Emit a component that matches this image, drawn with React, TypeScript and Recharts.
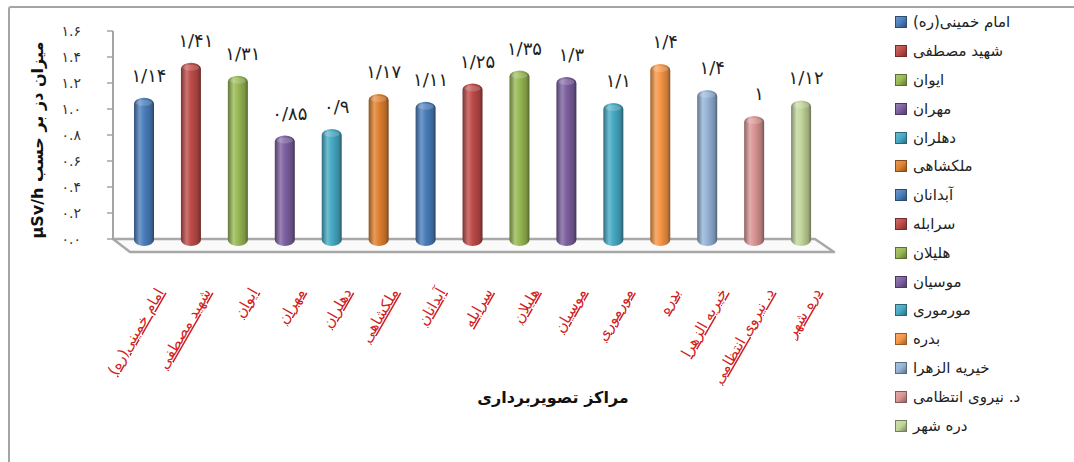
import { BarChart, Bar, XAxis, YAxis, LabelList } from 'recharts';

const categories = [
  'امام خمینی(ره)',
  'شهید مصطفی',
  'ایوان',
  'مهران',
  'دهلران',
  'ملکشاهی',
  'آبدانان',
  'سرابله',
  'هلیلان',
  'موسیان',
  'مورموری',
  'بدره',
  'خیریه الزهرا',
  'د. نیروی انتظامی',
  'دره شهر',
];

const doses = [1.14, 1.41, 1.31, 0.85, 0.9, 1.17, 1.11, 1.25, 1.35, 1.3, 1.1, 1.4, 1.2, 1, 1.12];

// labels as printed above the bars
const doseLabels = ['۱/۱۴', '۱/۴۱', '۱/۳۱', '۰/۸۵', '۰/۹', '۱/۱۷', '۱/۱۱', '۱/۲۵', '۱/۳۵', '۱/۳', '۱/۱', '۱/۴', '۱/۴', '۱', '۱/۱۲'];

const yTicks = [0, 0.2, 0.4, 0.6, 0.8, 1.0, 1.2, 1.4, 1.6];

const COLORS = [
  '#4A7EBB', '#BE4B48', '#98B954', '#7D60A0', '#46AAC5', '#E0812F', '#4A7EBB', '#BE4B48',
  '#98B954', '#7D60A0', '#46AAC5', '#F79646', '#95B3D7', '#D99694', '#C3D69B',
];

const FONT = '"DejaVu Sans", sans-serif';
const W = 1074;
const H = 462;
const PLOT_L = 113;
const PLOT_R = 817;
const PLOT_T = 31;
const BASE = 239;
const DEPTH_X = 17;
const DEPTH_Y = 13;
const BAR_DX = 8;
const BAR_DY = 7;

const fa = (s: string) => s.replace(/[0-9]/g, (d) => '۰۱۲۳۴۵۶۷۸۹'[Number(d)]);

const data = categories.map((name, i) => ({ name, value: doses[i], label: doseLabels[i], idx: i }));

function shade(hex: string, amt: number) {
  const n = parseInt(hex.slice(1), 16);
  let r = (n >> 16) & 255;
  let g = (n >> 8) & 255;
  let b = n & 255;
  if (amt < 0) {
    r = Math.round(r * (1 + amt));
    g = Math.round(g * (1 + amt));
    b = Math.round(b * (1 + amt));
  } else {
    r = Math.round(r + (255 - r) * amt);
    g = Math.round(g + (255 - g) * amt);
    b = Math.round(b + (255 - b) * amt);
  }
  return `rgb(${r},${g},${b})`;
}

const Cylinder = (props: any) => {
  const { x, y, width, height } = props;
  const i = props.payload?.idx ?? props.index ?? 0;
  if (!height) return null;
  const left = x + BAR_DX;
  const top = y + BAR_DY;
  return (
    <g>
      <rect x={left} y={top} width={width} height={height} rx={width / 2} ry={6} fill={`url(#cyl${i})`} />
      <ellipse cx={left + width / 2} cy={top + 5} rx={width / 2 - 2} ry={3} fill="rgba(255,255,255,0.18)" />
    </g>
  );
};

const XTick = (props: any) => {
  const { x, payload } = props;
  const ax = x + 28;
  const ay = 292;
  return (
    <text
      x={ax}
      y={ay}
      transform={`rotate(-60 ${ax} ${ay})`}
      textAnchor="end"
      fill="#d21f1f"
      fontSize={15}
      fontFamily={FONT}
      style={{ textDecoration: 'underline' }}
    >
      {payload.value}
    </text>
  );
};

const YTick = (props: any) => {
  const { x, y, payload } = props;
  return (
    <text x={x - 24} y={y + 5} textAnchor="end" fill="#333" fontSize={14} fontFamily={FONT}>
      {fa(Number(payload.value).toFixed(1))}
    </text>
  );
};

const ValueLabel = (props: any) => {
  const { x, y, width, value } = props;
  return (
    <text
      x={x + BAR_DX + width / 2 + 5}
      y={y + BAR_DY - 16}
      textAnchor="middle"
      fill="#222"
      fontSize={18}
      letterSpacing={1.5}
      fontFamily={FONT}
    >
      {value}
    </text>
  );
};

const LegendBox = () => (
  <div style={{ position: 'absolute', left: 895, top: 8, fontFamily: FONT, fontSize: 15, color: '#222' }}>
    {categories.map((c, i) => (
      <div key={c} style={{ height: 28.8, display: 'flex', alignItems: 'center', whiteSpace: 'nowrap' }}>
        <span
          style={{
            width: 10,
            height: 10,
            marginRight: 6,
            display: 'inline-block',
            background: `linear-gradient(135deg, ${shade(COLORS[i], 0.2)}, ${COLORS[i]} 50%, ${shade(COLORS[i], -0.35)})`,
            border: `1px solid ${shade(COLORS[i], -0.4)}`,
          }}
        />
        <span>{c}</span>
      </div>
    ))}
  </div>
);

export default function App() {
  return (
    <div style={{ position: 'absolute', left: 0, top: 0, width: W, height: H, background: '#fff', overflow: 'hidden' }}>
      {/* outer frame */}
      <div
        style={{
          position: 'absolute',
          left: 8,
          top: 6,
          width: W + 20,
          height: H + 20,
          borderTop: '2px solid #a5a5a5',
          borderLeft: '2px solid #a5a5a5',
          borderTopLeftRadius: 3,
        }}
      />
      {/* 3d floor */}
      <svg width={W} height={H} style={{ position: 'absolute', left: 0, top: 0 }}>
        <polygon
          points={`${PLOT_L},${BASE} ${PLOT_R - 2},${BASE} ${PLOT_R + DEPTH_X},${BASE + DEPTH_Y} ${PLOT_L + DEPTH_X},${BASE + DEPTH_Y}`}
          fill="#fafafa"
          stroke="#a8a8a8"
          strokeWidth={2.5}
          strokeLinejoin="round"
        />
      </svg>
      <div style={{ position: 'absolute', left: 0, top: 0 }}>
        <BarChart
          width={W}
          height={H}
          data={data}
          margin={{ top: PLOT_T, right: W - PLOT_R, bottom: H - BASE - 30, left: PLOT_L - 40 }}
        >
          <defs>
            {COLORS.map((c, i) => (
              <linearGradient key={i} id={`cyl${i}`} x1="0" y1="0" x2="1" y2="0">
                <stop offset="0%" stopColor={shade(c, -0.35)} />
                <stop offset="28%" stopColor={shade(c, 0.22)} />
                <stop offset="50%" stopColor={c} />
                <stop offset="85%" stopColor={shade(c, -0.2)} />
                <stop offset="100%" stopColor={shade(c, -0.45)} />
              </linearGradient>
            ))}
          </defs>
          <XAxis
            dataKey="name"
            axisLine={false}
            tickLine={false}
            interval={0}
            height={30}
            tick={<XTick />}
          />
          <YAxis
            width={40}
            domain={[0, 1.6]}
            ticks={yTicks}
            interval={0}
            axisLine={{ stroke: '#a5a5a5', strokeWidth: 2 }}
            tickLine={{ stroke: '#a5a5a5', strokeWidth: 1.5 }}
            tickSize={6}
            tick={<YTick />}
          />
          <Bar dataKey="value" barSize={20} shape={<Cylinder />} isAnimationActive={false}>
            <LabelList dataKey="label" content={<ValueLabel />} />
          </Bar>
        </BarChart>
      </div>
      <LegendBox />
      {/* axis titles */}
      <svg width={W} height={H} style={{ position: 'absolute', left: 0, top: 0, pointerEvents: 'none' }}>
        <text
          x={43}
          y={140}
          transform="rotate(-90 43 140)"
          textAnchor="middle"
          direction="rtl"
          fontSize={16}
          fontWeight="bold"
          fontFamily={FONT}
          fill="#111"
        >
          میزان دز بر حسب µSv/h
        </text>
        <text x={553} y={403} textAnchor="middle" fontSize={16} fontWeight="bold" fontFamily={FONT} fill="#111">
          مراکز تصویربرداری
        </text>
      </svg>
    </div>
  );
}
